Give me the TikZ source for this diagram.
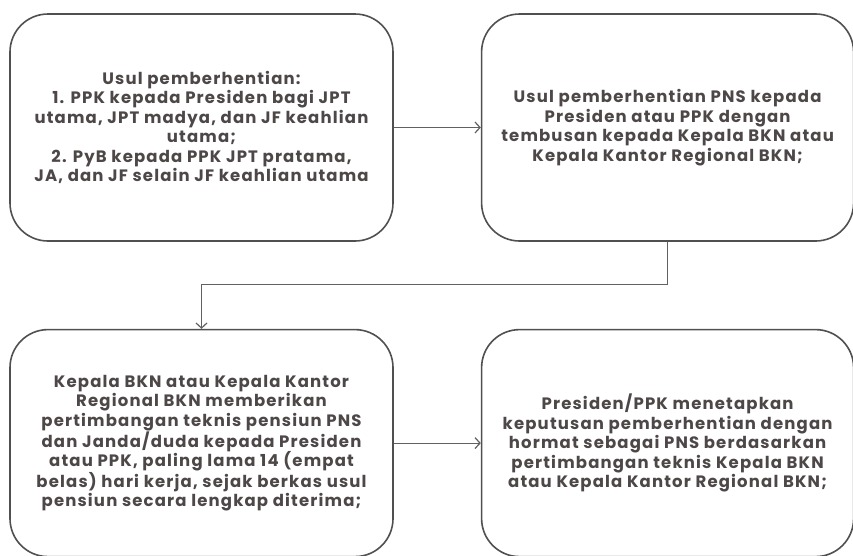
\documentclass[tikz,border=0pt]{standalone}
\usepackage{fontspec}
\setmainfont{Poppins}
\usetikzlibrary{positioning,arrows.meta}

\definecolor{ink}{HTML}{4D4747}
\definecolor{rim}{HTML}{505050}

\begin{document}
\begin{tikzpicture}[x=1pt,y=1pt,-{Straight Barb[length=5pt,width=11pt]}]
  \def\bw{383pt}
  \def\bh{227pt}

\tikzstyle{box}=[draw=rim,line width=1.6pt,rounded corners=38pt,minimum width=\bw,minimum height=\bh,inner sep=0pt,align=center,text=ink,font=\bfseries\fontsize{16.5}{19.5}\selectfont\addfontfeatures{LetterSpace=7}]
\tikzstyle{link}=[draw=rim!90,line width=1.2pt]

\useasboundingbox (0,0) rectangle (853,-555);

\node[box] (usul) at (201.5,-127.5) {Usul pemberhentian:\\1. PPK kepada Presiden bagi JPT\\utama, JPT madya, dan JF keahlian\\utama;\\2. PyB kepada PPK JPT pratama,\\JA, dan JF selain JF keahlian utama};
\node[box,minimum width=372pt,right=87pt of usul] (kirim) {Usul pemberhentian PNS kepada\\Presiden atau PPK dengan\\tembusan kepada Kepala BKN atau\\Kepala Kantor Regional BKN;};
\node[box,below=87pt of usul] (pertek) {Kepala BKN atau Kepala Kantor\\Regional BKN memberikan\\pertimbangan teknis pensiun PNS\\dan Janda/duda kepada Presiden\\atau PPK, paling lama 14 (empat\\belas) hari kerja, sejak berkas usul\\pensiun secara lengkap diterima;};
\node[box,minimum width=372pt,right=87pt of pertek] (sk) {Presiden/PPK menetapkan\\keputusan pemberhentian dengan\\hormat sebagai PNS berdasarkan\\pertimbangan teknis Kepala BKN\\atau Kepala Kantor Regional BKN;};

\draw[link] (usul) -- (kirim);
\draw[link] (kirim.south) -- ++(0,-43) -| (pertek.north);
\draw[link] (pertek) -- (sk);
\end{tikzpicture}
\end{document}
